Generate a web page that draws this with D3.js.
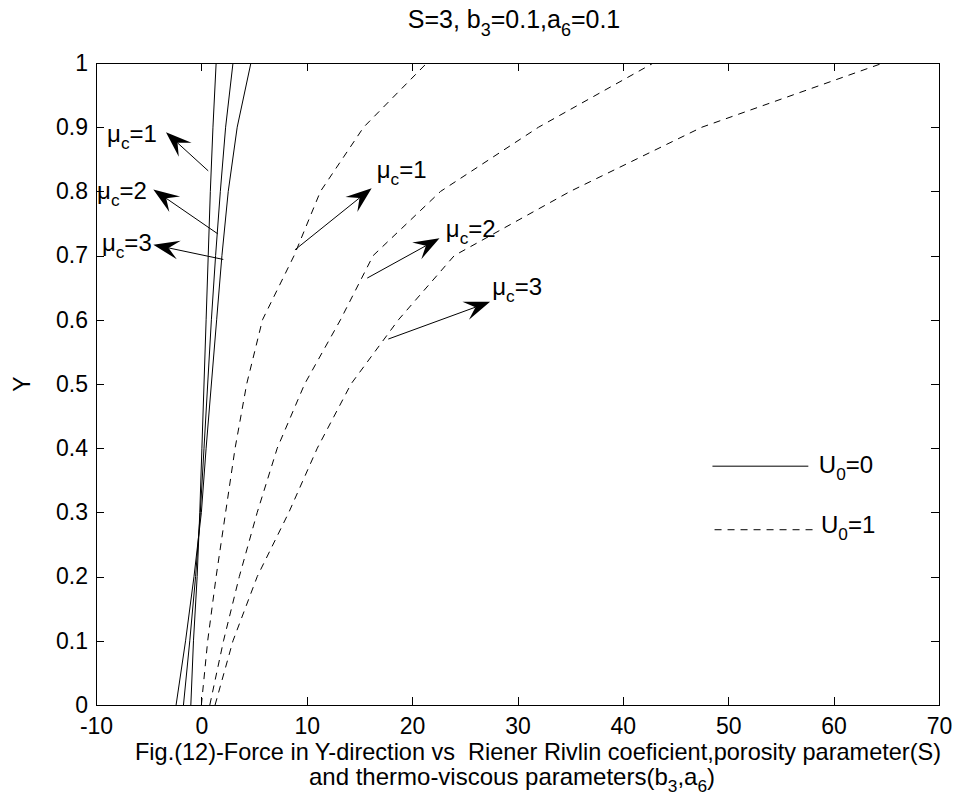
<!DOCTYPE html>
<html>
<head>
<meta charset="utf-8">
<title>Fig 12</title>
<script src="https://d3js.org/d3.v7.min.js"></script>
<style>
  body { margin: 0; background: #fff; }
  svg text { font-family: "Liberation Sans", Arial, sans-serif; fill: #000; }
  .axis path, .axis line { stroke: #000; shape-rendering: crispEdges; }
</style>
</head>
<body>
<script>
// y positions shared by every curve
var yVals = [0, 0.1, 0.2, 0.3, 0.4, 0.5, 0.6, 0.7, 0.8, 0.9, 1.0];

// U0 = 0 (solid)
var solidMu1 = [-1.0, -0.75, -0.4, -0.15, 0.05, 0.25, 0.45, 0.65, 0.85, 1.1, 1.4];
var solidMu2 = [-1.7, -1.1, -0.55, -0.1, 0.25, 0.6, 0.95, 1.35, 1.8, 2.3, 3.0];
var solidMu3 = [-2.4, -1.5, -0.7, 0.0, 0.45, 0.95, 1.45, 1.95, 2.55, 3.4, 4.7];

// U0 = 1 (dashed)
var dashMu1 = [0.0, 0.6, 1.4, 2.3, 3.2, 4.3, 5.8, 8.8, 11.3, 15.4, 21.4];
var dashMu2 = [0.8, 2.1, 3.6, 5.3, 7.2, 9.8, 13.2, 16.3, 22.7, 32.0, 42.9];
var dashMu3 = [1.3, 3.0, 5.3, 8.3, 11.0, 14.2, 18.7, 24.0, 35.0, 47.5, 64.7];

var xTicks = [-10, 0, 10, 20, 30, 40, 50, 60, 70];
var yTicks = [0, 0.1, 0.2, 0.3, 0.4, 0.5, 0.6, 0.7, 0.8, 0.9, 1];

// annotation arrows, in data units: tail on the curve, tip near the label
var arrows = [
  {tail: [0.65, 0.832], tip: [-3.36, 0.892]},
  {tail: [1.55, 0.734], tip: [-4.56, 0.803]},
  {tail: [2.08, 0.694], tip: [-4.56, 0.717]},
  {tail: [8.88, 0.709], tip: [16.16, 0.805]},
  {tail: [15.74, 0.665], tip: [22.6, 0.727]},
  {tail: [17.74, 0.570], tip: [27.4, 0.628]}
];
var muLabels = [
  {x: -8.95, y: 0.877, n: "1"},
  {x: -9.9, y: 0.788, n: "2"},
  {x: -9.44, y: 0.707, n: "3"},
  {x: 16.64, y: 0.821, n: "1"},
  {x: 23.2, y: 0.729, n: "2"},
  {x: 27.6, y: 0.639, n: "3"}
];

var w = 957, h = 807;
var mLeft = 96, mRight = 939, mTop = 63, mBottom = 705;

var svg = d3.select("body").append("svg")
    .attr("width", w)
    .attr("height", h);

var xScale = d3.scaleLinear().domain([-10, 70]).range([mLeft, mRight]);
var yScale = d3.scaleLinear().domain([0, 1]).range([mBottom, mTop]);

// text with subscripts: parts = [[text, isSub], ...]
function richText(g, x, y, parts, size, anchor) {
  var t = g.append("text")
      .attr("x", x).attr("y", y)
      .attr("font-size", size + "px")
      .attr("text-anchor", anchor || "start");
  var shift = 0;
  parts.forEach(function(p) {
    var want = p[1] ? Math.round(size * 0.3) : 0;
    t.append("tspan")
      .attr("dy", want - shift)
      .attr("font-size", p[1] ? (size * 0.72) + "px" : size + "px")
      .text(p[0]);
    shift = want;
  });
  return t;
}

// box
svg.append("rect")
   .attr("x", mLeft).attr("y", mTop)
   .attr("width", mRight - mLeft).attr("height", mBottom - mTop)
   .attr("fill", "none").attr("stroke", "#000").attr("stroke-width", 1)
   .attr("shape-rendering", "crispEdges");

// axes (ticks inward, mirrored on top and right)
var tk = 8;
var xAxis = d3.axisBottom(xScale).tickValues(xTicks).tickSize(-tk).tickPadding(13)
    .tickFormat(function(d) { return String(d); });
svg.append("g").attr("class", "axis")
   .attr("transform", "translate(0," + mBottom + ")")
   .call(xAxis)
   .call(function(g) { g.select(".domain").remove(); })
   .selectAll("text").attr("font-size", "23px").attr("font-family", "Liberation Sans, Arial, sans-serif");

svg.append("g").attr("class", "axis")
   .attr("transform", "translate(0," + mTop + ")")
   .call(d3.axisTop(xScale).tickValues(xTicks).tickSize(-tk).tickFormat(""))
   .call(function(g) { g.select(".domain").remove(); });

var yAxis = d3.axisLeft(yScale).tickValues(yTicks).tickSize(-tk).tickPadding(8)
    .tickFormat(function(d) { return d === 0 || d === 1 ? String(d) : d3.format(".1f")(d); });
svg.append("g").attr("class", "axis")
   .attr("transform", "translate(" + mLeft + ",0)")
   .call(yAxis)
   .call(function(g) { g.select(".domain").remove(); })
   .selectAll("text").attr("font-size", "23px").attr("font-family", "Liberation Sans, Arial, sans-serif");

svg.append("g").attr("class", "axis")
   .attr("transform", "translate(" + mRight + ",0)")
   .call(d3.axisRight(yScale).tickValues(yTicks).tickSize(-tk).tickFormat(""))
   .call(function(g) { g.select(".domain").remove(); });

// curves
var line = d3.line()
    .x(function(d) { return xScale(d[0]); })
    .y(function(d) { return yScale(d[1]); });

var curves = [
  {xs: solidMu1, dash: null},
  {xs: solidMu2, dash: null},
  {xs: solidMu3, dash: null},
  {xs: dashMu1, dash: "7,6"},
  {xs: dashMu2, dash: "7,6"},
  {xs: dashMu3, dash: "7,6"}
];

svg.append("defs").append("clipPath").attr("id", "plotclip")
   .append("rect").attr("x", mLeft).attr("y", mTop)
   .attr("width", mRight - mLeft).attr("height", mBottom - mTop);

svg.append("g").attr("clip-path", "url(#plotclip)")
   .selectAll("path.curve")
   .data(curves)
   .enter().append("path")
   .attr("class", "curve")
   .attr("d", function(c) { return line(c.xs.map(function(x, i) { return [x, yVals[i]]; })); })
   .attr("fill", "none")
   .attr("stroke", "#000")
   .attr("stroke-width", 1)
   .attr("stroke-dasharray", function(c) { return c.dash; });

// arrows
var headL = 26, headW = 9.5;
arrows.forEach(function(a) {
  var x0 = xScale(a.tail[0]), y0 = yScale(a.tail[1]);
  var x1 = xScale(a.tip[0]), y1 = yScale(a.tip[1]);
  var dx = x1 - x0, dy = y1 - y0, len = Math.sqrt(dx * dx + dy * dy);
  var ux = dx / len, uy = dy / len, nx = -uy, ny = ux;
  var bx = x1 - ux * headL, by = y1 - uy * headL;
  var mx = x1 - ux * headL * 0.6, my = y1 - uy * headL * 0.6;
  svg.append("line")
     .attr("x1", x0).attr("y1", y0).attr("x2", mx).attr("y2", my)
     .attr("stroke", "#000").attr("stroke-width", 1);
  svg.append("path")
     .attr("d", "M" + x1 + "," + y1 +
                "L" + (bx + nx * headW) + "," + (by + ny * headW) +
                "L" + mx + "," + my +
                "L" + (bx - nx * headW) + "," + (by - ny * headW) + "Z")
     .attr("fill", "#000");
});

// mu_c labels
muLabels.forEach(function(l) {
  richText(svg, xScale(l.x), yScale(l.y), [["\u03bc", false], ["c", true], ["=" + l.n, false]], 24);
});

// legend
var legend = [
  {x0: 48.5, x1: 57.6, y: 0.372, tx: 58.6, ty: 0.361, dash: null, lab: "0"},
  {x0: 48.7, x1: 58.4, y: 0.273, tx: 58.8, ty: 0.268, dash: "7,6", lab: "1"}
];
legend.forEach(function(l) {
  svg.append("line")
     .attr("x1", xScale(l.x0)).attr("x2", xScale(l.x1))
     .attr("y1", yScale(l.y)).attr("y2", yScale(l.y))
     .attr("stroke", "#000").attr("stroke-width", 1)
     .attr("stroke-dasharray", l.dash);
  richText(svg, xScale(l.tx), yScale(l.ty), [["U", false], ["0", true], ["=" + l.lab, false]], 24);
});

// title
richText(svg, 514, 28,
  [["S=3, b", false], ["3", true], ["=0.1,a", false], ["6", true], ["=0.1", false]], 25, "middle");

// y label
svg.append("text")
   .attr("transform", "translate(30," + yScale(0.5) + ") rotate(-90)")
   .attr("text-anchor", "middle")
   .attr("font-size", "23px")
   .text("Y");

// caption
svg.append("text")
   .attr("x", 538).attr("y", 760)
   .attr("text-anchor", "middle")
   .attr("font-size", "24px")
   .attr("textLength", 806)
   .attr("lengthAdjust", "spacingAndGlyphs")
   .attr("xml:space", "preserve")
   .text("Fig.(12)-Force in Y-direction vs  Riener Rivlin coeficient,porosity parameter(S)");
richText(svg, 512, 785,
  [["and thermo-viscous parameters(b", false], ["3", true], [",a", false], ["6", true], [")", false]], 24, "middle");
</script>
</body>
</html>
